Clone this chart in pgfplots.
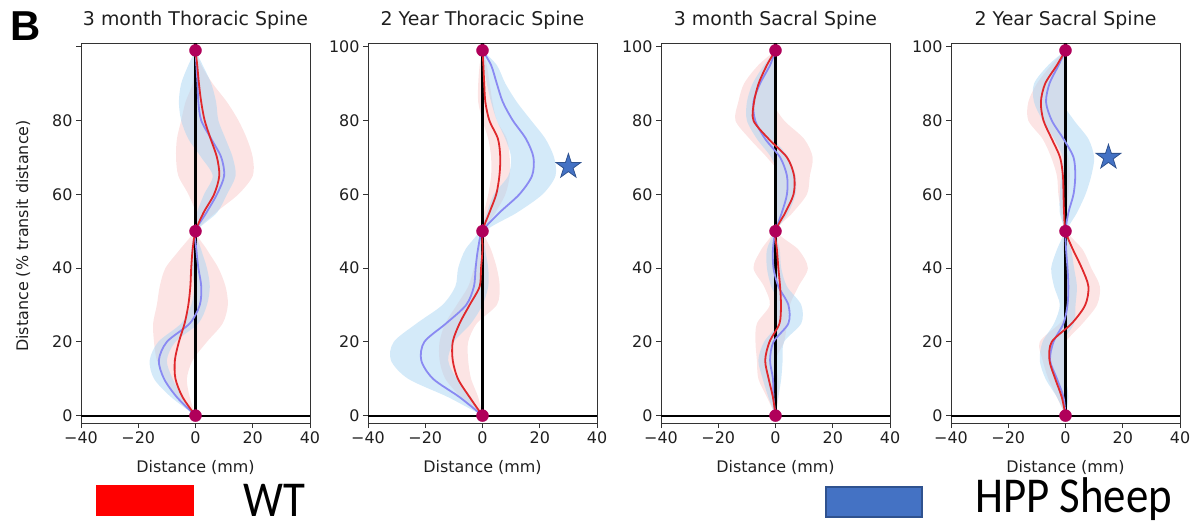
\documentclass[border=0pt]{standalone}
\usepackage{fontspec}
\setmainfont{DejaVu Sans}
\newfontfamily\legfont{Carlito}
\newfontfamily\labfont{Liberation Sans}
\usepackage{pgfplots}
\usepackage{pgfplotstable}
\pgfplotsset{compat=1.18}
\usepgfplotslibrary{fillbetween}

\definecolor{wtline}{HTML}{E0282C}
\definecolor{hppline}{HTML}{8A8AF2}
\definecolor{wtband}{HTML}{F8C4C4}
\definecolor{hppband}{HTML}{A9D5F3}
\definecolor{dotc}{HTML}{B0005A}
\definecolor{starc}{HTML}{4472C4}
\definecolor{stare}{HTML}{2F528F}

% filled five-point star
\pgfdeclareplotmark{fstar}{%
  \pgfpathmoveto{\pgfpointpolar{90}{\pgfplotmarksize}}%
  \pgfpathlineto{\pgfpointpolar{126}{0.382\pgfplotmarksize}}%
  \pgfpathlineto{\pgfpointpolar{162}{\pgfplotmarksize}}%
  \pgfpathlineto{\pgfpointpolar{198}{0.382\pgfplotmarksize}}%
  \pgfpathlineto{\pgfpointpolar{234}{\pgfplotmarksize}}%
  \pgfpathlineto{\pgfpointpolar{270}{0.382\pgfplotmarksize}}%
  \pgfpathlineto{\pgfpointpolar{306}{\pgfplotmarksize}}%
  \pgfpathlineto{\pgfpointpolar{342}{0.382\pgfplotmarksize}}%
  \pgfpathlineto{\pgfpointpolar{18}{\pgfplotmarksize}}%
  \pgfpathlineto{\pgfpointpolar{54}{0.382\pgfplotmarksize}}%
  \pgfpathclose\pgfusepathqfillstroke}

% y: % transit distance; wm/wl/wh: WT mean, low, high; hm/hl/hh: HPP
\pgfplotstableread{
y   wm    wl     wh    hm     hl     hh
0   0     0      0     0      0      0
5  -4.5  -6.5   -2.0  -6.5   -8.5   -4.5
10 -7.0  -10.5  -3.0 -11.0  -14.5   -8.0
15 -7.2  -13.5  -1.0 -12.8  -16.0  -10.0
20 -5.8  -14.5   4.0 -10.0  -13.0   -7.0
25 -3.8  -14.8   9.5  -2.0   -5.0    1.0
30 -2.5  -13.5  11.3   1.5   -1.5    4.0
35 -1.8  -12.5  10.5   2.0   -0.5    5.0
40 -1.5  -10.5   8.0   1.0   -1.5    4.0
45 -1.0   -5.5   4.0   0.3   -1.5    2.0
50  0     -0.5   0.5   0     -0.5    0.5
55  2.8    0.0   7.0   3.8    0.5    7.5
60  6.5   -2.5  15.0   7.5    3.0   11.0
65  8.3   -6.0  20.0  10.0    6.0   14.0
70  7.5   -6.8  20.0   9.0    2.0   13.0
75  5.3   -6.5  18.0   5.5   -2.5   10.5
80  3.2   -5.0  15.0   2.0   -5.0    8.0
85  2.0   -3.5  11.0   1.0   -5.8    7.2
90  1.2   -1.0   6.0   0.7   -5.0    5.5
95  0.6   -0.5   2.0   0.3   -2.5    2.5
99  0     0      0     0      0      0
}\tA

\pgfplotstableread{
y   wm    wl     wh    hm     hl     hh
0   0     0      0     0      0      0
5  -4.5  -7.5   -1.5  -8.0  -12.0   -4.0
10 -8.6  -13.0  -4.0 -17.3  -26.0   -9.0
15 -10.4 -15.0  -5.0 -21.4  -32.0  -12.0
20 -10.4 -15.0  -5.0 -20.3  -31.0  -10.0
25 -8.0  -13.0  -2.0 -12.7  -23.0   -4.0
30 -4.5   -9.0   5.0  -5.7  -14.0    0.0
35 -1.0   -5.0   6.0  -3.0   -9.5    2.0
40 -0.5   -3.0   5.0  -2.4   -8.5    2.0
45  0     -1.5   3.0  -1.6   -6.0    1.0
50  0     -0.5   0.5   0     -1.0    1.0
55  2.4    0.5   4.5   5.9    1.5   12.0
60  4.8    2.0   8.0  12.9    4.0   21.0
65  5.9    3.0   9.5  17.3    9.0   25.5
70  6.2    3.0   9.5  17.8   10.0   25.0
75  5.4    2.0   8.5  15.2    8.0   22.0
80  2.4    0.0   5.0  10.6    5.0   17.0
85  1.0   -1.5   3.5   7.1    3.0   12.0
90  0.6   -1.5   2.5   5.0    1.5    8.0
95  0.3   -1.0   1.5   3.0    0.5    5.0
99  0     0      0     0      0      0
}\tB

\pgfplotstableread{
y   wm    wl     wh    hm     hl     hh
0   0     0      0     0      0      0
5  -0.9  -3.0    1.0  -0.7   -2.5    1.0
10 -2.4  -6.0    1.0  -0.9   -4.5    2.0
15 -3.6  -6.5    0.0  -1.9   -6.0    2.5
20 -2.1  -7.0    3.0  -0.7   -4.0    3.0
25  1.4  -6.5    4.0   4.5    1.0    9.0
30  1.9  -2.0    5.0   4.5    1.5    9.0
35  1.6  -4.0    8.0   1.0   -1.5    4.0
40  1.0  -7.7   11.3  -0.7   -3.0    2.0
45  0.5  -5.0    8.0  -0.9   -3.0    1.5
50  0    -0.5    0.5   0     -0.5    0.5
55  3.4   0.0    6.0   2.2    0.0    4.5
60  6.3   2.0   11.0   4.0    1.0    7.0
65  6.5   2.0   12.0   4.0    1.0    7.0
70  4.0  -3.0   13.0   1.6   -1.5    4.5
75 -2.4  -9.0   10.0  -3.6   -6.5   -0.5
80 -7.7  -14.0   3.0  -7.1  -10.0   -4.0
85 -7.5  -13.0  -1.0  -7.7  -10.0   -5.0
90 -5.9  -11.0  -1.0  -5.4   -8.0   -2.5
95 -3.0   -6.0   0.0  -1.9   -4.0    0.0
99  0     0      0     0      0      0
}\tC

\pgfplotstableread{
y   wm    wl     wh    hm     hl     hh
0   0     0      0     0      0      0
5  -1.3  -3.0    0.5  -0.7   -3.0    1.0
10 -3.6  -6.0   -1.0  -3.0   -7.0    0.0
15 -5.6  -8.0   -3.0  -5.4   -9.0   -2.0
20 -4.8  -9.0    0.0  -4.2   -8.0   -1.0
25  2.2  -2.0    6.0  -0.7   -4.0    3.0
30  6.9   3.0   11.0   0.7   -2.0    3.5
35  8.0   4.0   12.0   1.0   -4.0    4.0
40  5.7   2.0    9.0   0.7   -5.0    3.0
45  2.6  -1.0    6.0   0.2   -3.0    2.0
50  0    -0.5    0.5   0     -0.5    0.5
55 -0.5  -1.5    0.5   1.0   -2.0    4.0
60 -0.7  -2.5    1.0   2.8   -2.0    7.0
65 -0.9  -3.0    1.5   3.4   -1.5    9.0
70 -1.9  -5.0    1.0   2.8   -1.0   10.0
75 -4.8  -8.0   -1.0  -0.7   -4.0    8.0
80 -7.7  -13.0  -3.0  -4.8   -8.0    3.0
85 -8.6  -13.0  -4.0  -6.8  -11.0   -1.0
90 -7.1  -10.0  -4.0  -5.6  -11.0    0.5
95 -3.0   -5.0  -1.0  -2.4   -6.0    0.5
99  0     0      0     0      0      0
}\tD

\pgfplotsset{
  spine/.style={
    scale only axis, width=229bp, height=380bp, anchor=south west,
    xmin=-40, xmax=40, ymin=-2, ymax=101,
    xtick={-40,-20,0,20,40}, xticklabels={−40,−20,0,20,40},
    ytick={0,20,40,60,80,100}, yticklabels={0,20,40,60,80,100},
    tick pos=left, tick align=outside, major tick length=5bp,
    axis line style={draw=black!80, line width=0.8bp},
    major tick style={black!80, line width=0.8bp},
    tick label style={font=\fontsize{16}{16}\selectfont, text=black!88},
    xlabel={Distance (mm)},
    xlabel style={font=\fontsize{16}{16}\selectfont, text=black!88,
      at={(axis description cs:0.5,0)}, anchor=base, yshift=-49.7bp},
    title style={font=\fontsize{19}{19}\selectfont, text=black!88,
      at={(axis description cs:0.5,1)}, anchor=base, yshift=11.5bp},
  },
}

% one panel: #1 table, #2 path prefix
\newcommand{\panel}[2]{%
  \addplot[name path=#2wl, draw=none, smooth, forget plot] table[x=wl, y=y] {#1};
  \addplot[name path=#2wh, draw=none, smooth, forget plot] table[x=wh, y=y] {#1};
  \addplot[wtband, fill opacity=0.45, draw=none] fill between[of=#2wl and #2wh];
  \addplot[name path=#2hl, draw=none, smooth, forget plot] table[x=hl, y=y] {#1};
  \addplot[name path=#2hh, draw=none, smooth, forget plot] table[x=hh, y=y] {#1};
  \addplot[hppband, fill opacity=0.5, draw=none] fill between[of=#2hl and #2hh];
  \addplot[black, line width=2.2bp] coordinates {(-40,0) (40,0)};
  \addplot[black, line width=2.2bp] coordinates {(0,0) (0,101)};
  \addplot[hppline, line width=1.8bp, smooth] table[x=hm, y=y] {#1};
  \addplot[wtline, line width=1.8bp, smooth] table[x=wm, y=y] {#1};
  \addplot[only marks, mark=*, mark size=6bp, dotc] coordinates {(0,0) (0,50) (0,99)};
  \addplot[only marks, mark=diamond*, mark size=7bp, dotc] coordinates {(0,50)};
}

\begin{document}
\begin{tikzpicture}

\begin{axis}[spine, at={(81bp,-423bp)}, title={3 month Thoracic Spine},
  yticklabels={0,20,40,60,80,{}},
  ylabel={Distance (\% transit distance)},
  ylabel style={font=\fontsize{16}{16}\selectfont, text=black!88,
    at={(axis description cs:-0.2533,0.492)}, anchor=center}]
\panel{\tA}{a}
\end{axis}

\begin{axis}[spine, at={(368bp,-423bp)}, title={2 Year Thoracic Spine}]
\panel{\tB}{b}
\addplot[only marks, mark=fstar, mark size=13bp,
  mark options={fill=starc, draw=stare, line width=0.8bp}] coordinates {(30,67.5)};
\end{axis}

\begin{axis}[spine, at={(661bp,-423bp)}, title={3 month Sacral Spine}]
\panel{\tC}{c}
\end{axis}

\begin{axis}[spine, at={(951bp,-423bp)}, title={2 Year Sacral Spine}]
\panel{\tD}{d}
\addplot[only marks, mark=fstar, mark size=13bp,
  mark options={fill=starc, draw=stare, line width=0.8bp}] coordinates {(15,70)};
\end{axis}

\node[anchor=base west, inner sep=0, font=\labfont\bfseries\fontsize{42}{42}\selectfont]
  at (10bp,-40bp) {B};

\fill[red] (96bp,-485bp) rectangle (194bp,-516bp);
\node[anchor=base west, inner sep=0, yscale=1.12,
  font=\legfont\fontsize{45}{45}\selectfont] at (243bp,-516bp) {WT};
\filldraw[fill=starc, draw=stare, line width=1.5bp] (826bp,-487bp) rectangle (922bp,-517bp);
\node[anchor=base west, inner sep=0, yscale=1.12,
  font=\legfont\fontsize{45}{45}\selectfont] at (975bp,-512bp) {HPP Sheep};

\pgfresetboundingbox
\path[use as bounding box] (0bp,0bp) rectangle (1191bp,-528bp);
\end{tikzpicture}
\end{document}
